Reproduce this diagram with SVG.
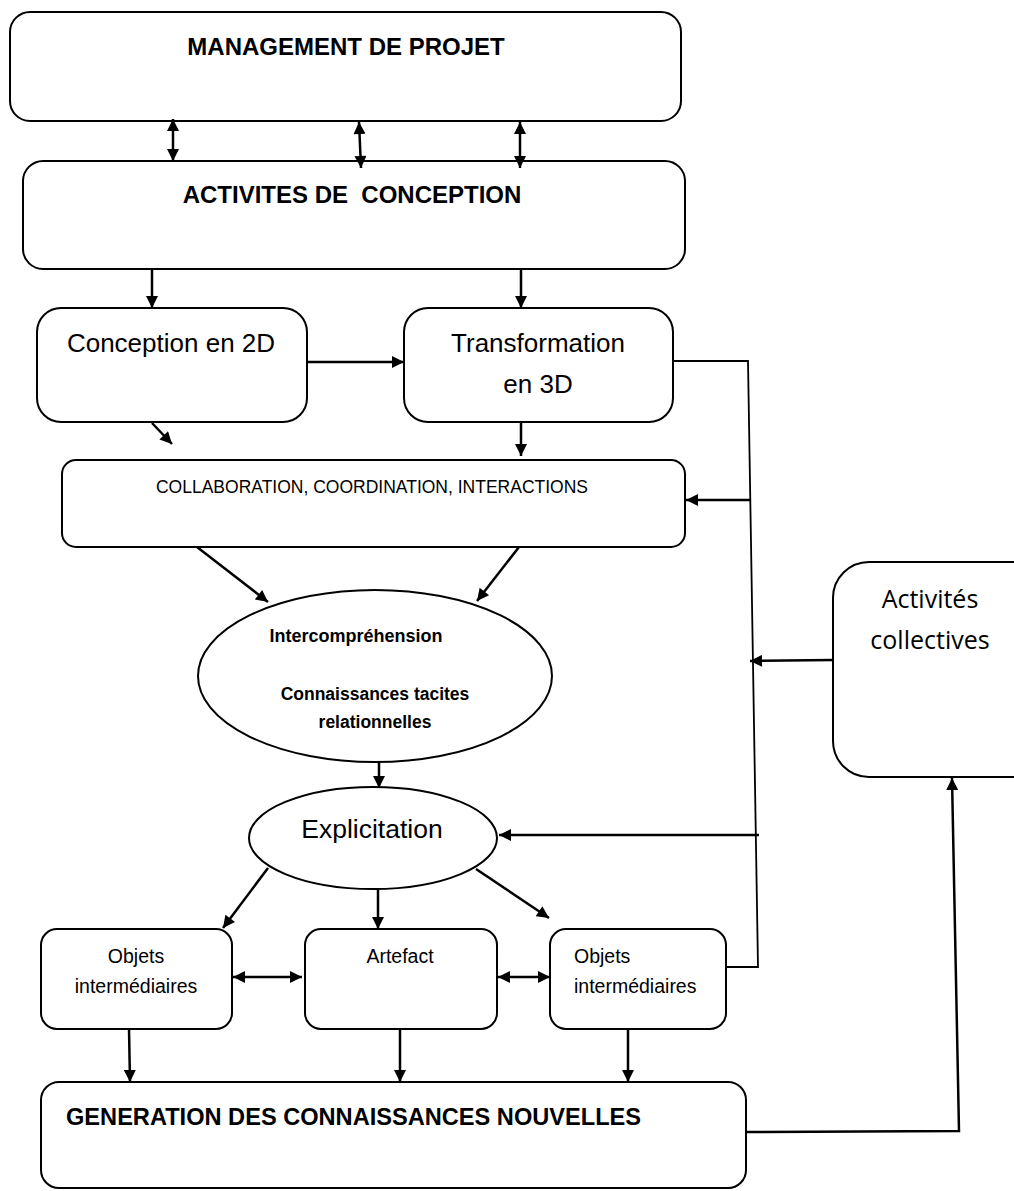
<svg xmlns="http://www.w3.org/2000/svg" width="1014" height="1191" viewBox="0 0 1014 1191">
<style>
.box{fill:#fff;stroke:#000;stroke-width:2}
.t{font-family:"Liberation Sans",Arial,sans-serif;fill:#000}
.b{font-weight:bold}
.c{text-anchor:middle}
.ar{stroke:#000;stroke-width:2.5;fill:none}
.thin{stroke:#000;stroke-width:1.8;fill:none}
</style>
<defs>
<marker id="ah" viewBox="0 0 10 10" refX="10" refY="5" markerWidth="14" markerHeight="12" markerUnits="userSpaceOnUse" orient="auto-start-reverse">
<path d="M0,0 L10,5 L0,10 Z" fill="#000"/>
</marker>
</defs>
<rect width="1014" height="1191" fill="#fff"/>
<g id="management"><rect class="box" x="10" y="12" width="671" height="109" rx="20"/><text class="t b c" x="346" y="55" font-size="24">MANAGEMENT DE PROJET</text></g>
<g id="activites"><rect class="box" x="23" y="161" width="662" height="108" rx="20"/><text class="t b c" x="352" y="203" font-size="24" xml:space="preserve">ACTIVITES DE  CONCEPTION</text></g>
<g id="conception2d"><rect class="box" x="37" y="308" width="270" height="114" rx="24"/><text class="t c" x="171" y="352" font-size="26">Conception en 2D</text></g>
<g id="transformation3d"><rect class="box" x="404" y="308" width="269" height="114" rx="24"/><text class="t c" x="538" y="352" font-size="26">Transformation</text><text class="t c" x="538" y="393" font-size="26">en 3D</text></g>
<g id="collaboration"><rect class="box" x="62" y="460" width="623" height="87" rx="14"/><text class="t c" x="372" y="493" font-size="17.5">COLLABORATION, COORDINATION, INTERACTIONS</text></g>
<g id="intercomprehension"><ellipse class="box" cx="375" cy="676" rx="177" ry="86"/><text class="t b c" x="356" y="642" font-size="18">Intercompréhension</text><text class="t b c" x="375" y="700" font-size="17.5">Connaissances tacites</text><text class="t b c" x="375" y="728" font-size="17.5">relationnelles</text></g>
<g id="explicitation"><ellipse class="box" cx="373" cy="838" rx="124" ry="51"/><text class="t c" x="372" y="838" font-size="26.5">Explicitation</text></g>
<g id="objets1"><rect class="box" x="41" y="929" width="191" height="100" rx="16"/><text class="t c" x="136" y="963" font-size="19.5">Objets</text><text class="t c" x="136" y="993" font-size="19.5">intermédiaires</text></g>
<g id="artefact"><rect class="box" x="305" y="929" width="192" height="100" rx="16"/><text class="t c" x="400" y="963" font-size="19.5">Artefact</text></g>
<g id="objets2"><rect class="box" x="550" y="929" width="176" height="100" rx="16"/><text class="t" x="574" y="963" font-size="19.5">Objets</text><text class="t" x="574" y="993" font-size="19.5">intermédiaires</text></g>
<g id="generation"><rect class="box" x="41" y="1082" width="705" height="106" rx="18"/><text class="t b" x="66" y="1125" font-size="23.6">GENERATION DES CONNAISSANCES NOUVELLES</text></g>
<g id="activites-collectives"><rect class="box" x="833" y="562" width="220" height="215" rx="36"/><text class="c" x="930" y="608" font-size="25" font-family="'Open Sans','Liberation Sans',sans-serif">Activités</text><text class="c" x="930" y="649" font-size="25" font-family="'Open Sans','Liberation Sans',sans-serif">collectives</text></g>
<g id="connectors">
<line class="ar" x1="173" y1="119" x2="173" y2="161" marker-start="url(#ah)" marker-end="url(#ah)"/>
<line class="ar" x1="359" y1="122" x2="361" y2="168" marker-start="url(#ah)" marker-end="url(#ah)"/>
<line class="ar" x1="520" y1="122" x2="520" y2="168" marker-start="url(#ah)" marker-end="url(#ah)"/>
<line class="ar" x1="152" y1="269" x2="152" y2="308" marker-end="url(#ah)"/>
<line class="ar" x1="521" y1="269" x2="521" y2="308" marker-end="url(#ah)"/>
<line class="ar" x1="307" y1="362" x2="404" y2="362" marker-end="url(#ah)"/>
<line class="ar" x1="152" y1="423" x2="172" y2="444" marker-end="url(#ah)"/>
<line class="ar" x1="521" y1="422" x2="521" y2="456" marker-end="url(#ah)"/>
<line class="ar" x1="197" y1="547" x2="268" y2="602" marker-end="url(#ah)"/>
<line class="ar" x1="519" y1="547" x2="477" y2="601" marker-end="url(#ah)"/>
<line class="ar" x1="379" y1="762" x2="379" y2="788" marker-end="url(#ah)"/>
<line class="ar" x1="268" y1="868" x2="223" y2="928" marker-end="url(#ah)"/>
<line class="ar" x1="378" y1="889" x2="378" y2="929" marker-end="url(#ah)"/>
<line class="ar" x1="476" y1="869" x2="549" y2="918" marker-end="url(#ah)"/>
<line class="ar" x1="233" y1="977" x2="302" y2="977" marker-start="url(#ah)" marker-end="url(#ah)"/>
<line class="ar" x1="498" y1="977" x2="550" y2="977" marker-start="url(#ah)" marker-end="url(#ah)"/>
<line class="ar" x1="129" y1="1029" x2="130" y2="1082" marker-end="url(#ah)"/>
<line class="ar" x1="400" y1="1029" x2="400" y2="1082" marker-end="url(#ah)"/>
<line class="ar" x1="628" y1="1029" x2="628" y2="1082" marker-end="url(#ah)"/>
<polyline class="thin" points="673,361 748,361 758,967 726,967"/>
<line class="ar" x1="750" y1="500" x2="686" y2="500" marker-end="url(#ah)"/>
<line class="ar" x1="833" y1="660" x2="750" y2="661" marker-end="url(#ah)"/>
<line class="ar" x1="759" y1="835" x2="499" y2="835" marker-end="url(#ah)"/>
<polyline class="ar" points="746,1132 959,1131 952,778" marker-end="url(#ah)"/>
</g>
</svg>
